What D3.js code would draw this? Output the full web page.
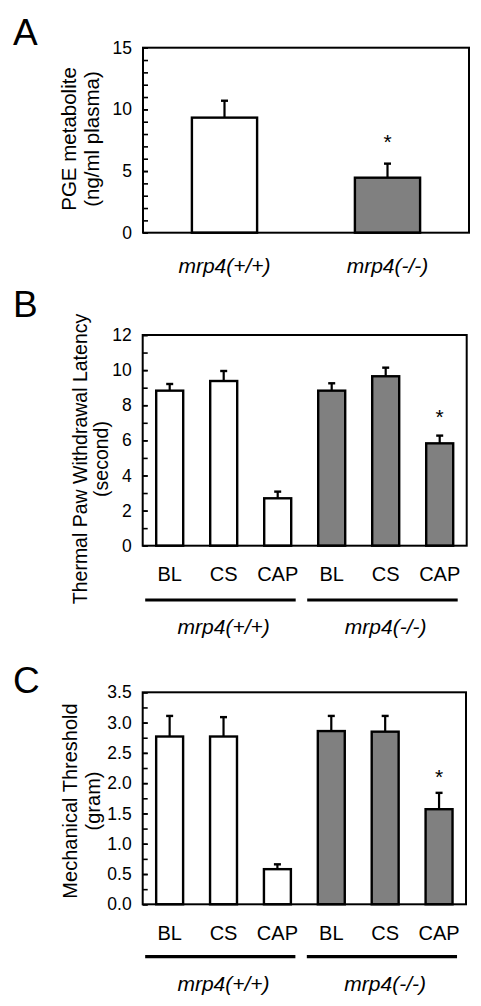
<!DOCTYPE html>
<html>
<head>
<meta charset="utf-8">
<script src="https://cdn.jsdelivr.net/npm/d3@7"></script>
<style>
  html, body { margin: 0; padding: 0; background: #fff; }
  svg { display: block; font-family: "Liberation Sans", Arial, sans-serif; }
</style>
</head>
<body>
<svg id="chart" width="481" height="1006"></svg>
<script>
// ---------- DATA ----------
// Panel A
const aCategories = ["mrp4(+/+)", "mrp4(-/-)"];
const aValues = [9.33, 4.46];
const aErrors = [1.37, 1.14];
const aSignificant = [false, true];
const aTicks = [0, 5, 10, 15];

// Panels B and C share categories
const bcCategories = ["BL", "CS", "CAP", "BL ", "CS ", "CAP "];
const bcLabels = ["BL", "CS", "CAP", "BL", "CS", "CAP"];
const bcGenotype = ["wt", "wt", "wt", "ko", "ko", "ko"];
const groupNames = ["mrp4(+/+)", "mrp4(-/-)"];

// Panel B
const bValues = [8.83, 9.38, 2.70, 8.83, 9.65, 5.83];
const bErrors = [0.38, 0.57, 0.38, 0.42, 0.49, 0.44];
const bSignificant = [false, false, false, false, false, true];
const bTicks = [0, 2, 4, 6, 8, 10, 12];

// Panel C
const cValues = [2.77, 2.77, 0.58, 2.86, 2.85, 1.57];
const cErrors = [0.34, 0.32, 0.08, 0.25, 0.26, 0.27];
const cSignificant = [false, false, false, false, false, true];
const cTicks = [0, 0.5, 1.0, 1.5, 2.0, 2.5, 3.0, 3.5];

// ---------- DRAW ----------
const svg = d3.select("#chart");
svg.append("rect").attr("width", 481).attr("height", 1006).attr("fill", "#fff");

const GRAY = "#808080";

function panel(opts) {
  const g = svg.append("g");
  const x = d3.scaleBand().domain(opts.cats).range([opts.x0, opts.x1])
    .paddingInner(opts.pin).paddingOuter(opts.pout);
  const y = d3.scaleLinear().domain([0, opts.max]).range([opts.y1, opts.y0]);

  // panel letter
  g.append("text").attr("x", 13).attr("y", opts.letterY)
    .attr("font-size", 37).text(opts.letter);

  // minor ticks
  const minor = d3.axisLeft(y).tickValues(d3.range(0, opts.max + 1e-9, opts.minorStep))
    .tickSize(-5).tickFormat("");
  const mg = g.append("g").attr("transform", `translate(${opts.x0},0)`).call(minor);
  mg.select(".domain").remove();
  mg.selectAll("line").attr("stroke", "#000").attr("stroke-width", 1.6);

  // major ticks + labels
  const major = d3.axisLeft(y).tickValues(opts.ticks).tickSize(-5).tickPadding(11)
    .tickFormat(opts.fmt);
  const ag = g.append("g").attr("transform", `translate(${opts.x0},0)`).call(major);
  ag.select(".domain").remove();
  ag.selectAll("line").attr("stroke", "#000").attr("stroke-width", 1.6);
  ag.selectAll("text").attr("font-size", 17.5).attr("fill", "#000")
    .attr("font-family", "\"Liberation Sans\", Arial, sans-serif");

  // bars
  g.selectAll("rect.bar").data(opts.values).enter().append("rect")
    .attr("class", "bar")
    .attr("x", (d, i) => x(opts.cats[i]))
    .attr("width", x.bandwidth())
    .attr("y", d => y(d))
    .attr("height", d => y(0) - y(d))
    .attr("fill", (d, i) => opts.fills[i])
    .attr("stroke", "#000").attr("stroke-width", 2.4);

  // error bars (upward only)
  const eg = g.append("g");
  opts.values.forEach((v, i) => {
    const cx = x(opts.cats[i]) + x.bandwidth() / 2;
    const top = y(v + opts.errors[i]);
    eg.append("line").attr("x1", cx).attr("x2", cx).attr("y1", y(v)).attr("y2", top)
      .attr("stroke", "#000").attr("stroke-width", 2.2);
    eg.append("line").attr("x1", cx - 3.5).attr("x2", cx + 3.5).attr("y1", top).attr("y2", top)
      .attr("stroke", "#000").attr("stroke-width", 2.4);
    if (opts.sig[i]) {
      eg.append("text").attr("x", cx).attr("y", top - opts.starGap + 12)
        .attr("text-anchor", "middle").attr("font-size", 21).text("*");
    }
  });

  // frame
  g.append("rect").attr("x", opts.x0).attr("y", opts.y0)
    .attr("width", opts.x1 - opts.x0).attr("height", opts.y1 - opts.y0)
    .attr("fill", "none").attr("stroke", "#000").attr("stroke-width", 2);

  // y title
  opts.title.forEach((t, k) => {
    g.append("text")
      .attr("transform", `translate(${opts.titleX[k]},${opts.titleY}) rotate(-90)`)
      .attr("text-anchor", "middle").attr("dominant-baseline", "central")
      .attr("font-size", opts.titleSize).text(t);
  });
  return x;
}

// Panel A
const xA = panel({
  letter: "A", letterY: 45,
  cats: aCategories, values: aValues, errors: aErrors, sig: aSignificant,
  fills: ["#fff", GRAY],
  x0: 143, x1: 469, y0: 47.7, y1: 232.7, max: 15, pin: 0.6, pout: 0.3,
  ticks: aTicks, minorStep: 1, fmt: d3.format("d"),
  title: ["PGE metabolite", "(ng/ml plasma)"], titleX: [68, 91], titleY: 139, titleSize: 20.5,
  starGap: 27
});
svg.selectAll(null).data(aCategories).enter().append("text")
  .attr("x", d => xA(d) + xA.bandwidth() / 2).attr("y", 265)
  .attr("text-anchor", "middle").attr("dominant-baseline", "central")
  .attr("font-size", 21).attr("font-style", "italic").text(d => d);

function groupAxis(x, catY, lineY, labelY) {
  svg.selectAll(null).data(bcCategories).enter().append("text")
    .attr("x", d => x(d) + x.bandwidth() / 2).attr("y", catY)
    .attr("text-anchor", "middle").attr("dominant-baseline", "central")
    .attr("font-size", 20).text((d, i) => bcLabels[i]);
  ["wt", "ko"].forEach((gk, k) => {
    const cats = bcCategories.filter((c, i) => bcGenotype[i] === gk);
    const xs = x(cats[0]) - 11;
    const xe = x(cats[cats.length - 1]) + x.bandwidth() + 4.5;
    svg.append("line").attr("x1", xs).attr("x2", xe).attr("y1", lineY).attr("y2", lineY)
      .attr("stroke", "#000").attr("stroke-width", 3.2);
    const mid = d3.mean(cats, c => x(c) + x.bandwidth() / 2);
    svg.append("text").attr("x", mid).attr("y", labelY)
      .attr("text-anchor", "middle").attr("dominant-baseline", "central")
      .attr("font-size", 21).attr("font-style", "italic").text(groupNames[k]);
  });
}

// Panel B
const xB = panel({
  letter: "B", letterY: 317,
  cats: bcCategories, values: bValues, errors: bErrors, sig: bSignificant,
  fills: bcGenotype.map(g => g === "wt" ? "#fff" : GRAY),
  x0: 142.7, x1: 466.7, y0: 335, y1: 545.7, max: 12, pin: 0.5, pout: 0.25,
  ticks: bTicks, minorStep: 1, fmt: d3.format("d"),
  title: ["Thermal Paw Withdrawal Latency", "(second)"], titleX: [80, 101], titleY: 459, titleSize: 19.5,
  starGap: 24
});
groupAxis(xB, 574, 600, 626);

// Panel C
const xC = panel({
  letter: "C", letterY: 693,
  cats: bcCategories, values: cValues, errors: cErrors, sig: cSignificant,
  fills: bcGenotype.map(g => g === "wt" ? "#fff" : GRAY),
  x0: 142.7, x1: 466, y0: 692.3, y1: 904.3, max: 3.5, pin: 0.5, pout: 0.25,
  ticks: cTicks, minorStep: 0.25, fmt: d3.format(".1f"),
  title: ["Mechanical Threshold", "(gram)"], titleX: [70, 93], titleY: 801, titleSize: 20,
  starGap: 21
});
groupAxis(xC, 932.7, 956.7, 983.5);
</script>
</body>
</html>
